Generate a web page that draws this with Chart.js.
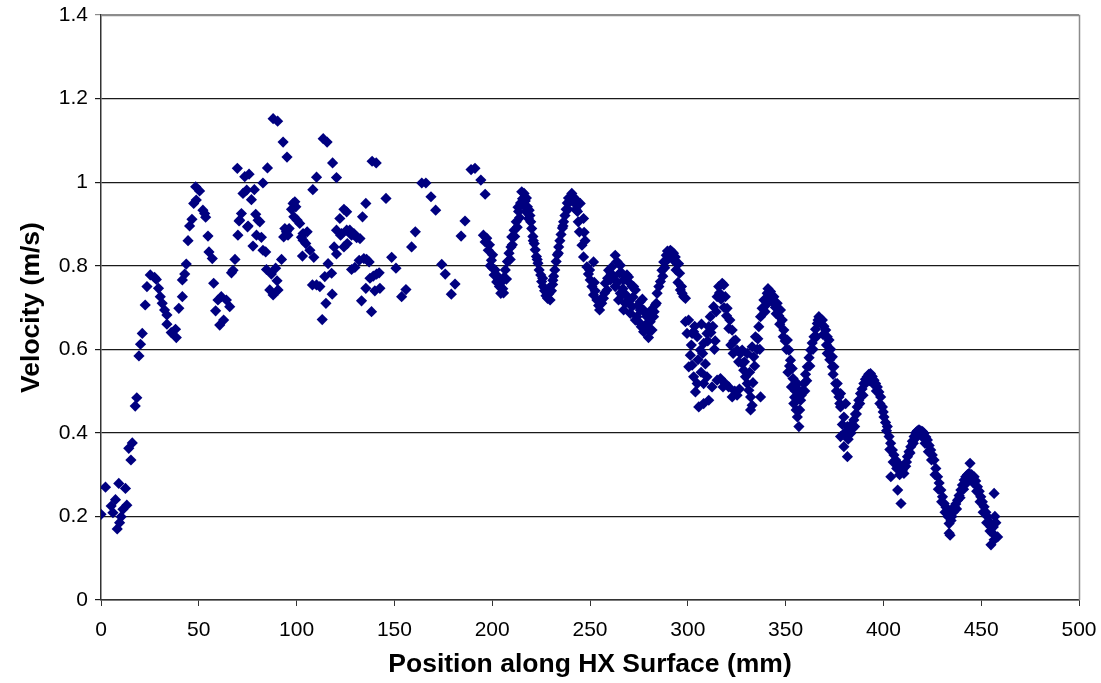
<!DOCTYPE html>
<html>
<head>
<meta charset="utf-8">
<script src="https://cdn.jsdelivr.net/npm/chart.js@4.4.0/dist/chart.umd.min.js"></script>
<style>
    body { margin: 0; background: #fff; }
</style>
</head>
<body>
<canvas id="graficoVelocidad" width="1101" height="683"></canvas>
<script>
// position (mm), velocity (m/s)
let inletPoints = [
    [0, 0.205], [2.3, 0.27], [5.2, 0.225], [6.1, 0.209], [7.4, 0.24], [8.3, 0.17], [9.1, 0.279],
    [9.5, 0.185], [10.3, 0.199], [11.2, 0.217], [12.5, 0.267], [13.2, 0.227], [14.2, 0.363],
    [15.3, 0.335], [16, 0.376], [17.5, 0.464], [18.3, 0.484], [19.4, 0.584], [20.2, 0.612],
    [21.1, 0.638], [22.6, 0.706], [23.5, 0.75], [25.2, 0.778], [27.4, 0.772], [28.3, 0.767],
    [29.4, 0.746], [30.3, 0.726], [31.3, 0.71], [32.5, 0.694], [33.7, 0.682], [33.7, 0.66],
    [35.9, 0.64], [38.1, 0.648], [38.5, 0.628], [39.8, 0.698], [41.6, 0.726], [41.6, 0.766],
    [42.8, 0.78], [43.6, 0.804], [44.5, 0.86], [45.3, 0.895], [46.5, 0.911], [47.4, 0.949],
    [48.7, 0.957], [48.4, 0.989], [50.4, 0.979], [52.1, 0.933], [53, 0.925], [53.5, 0.916],
    [54.7, 0.871], [55.2, 0.833], [56.9, 0.817], [57.6, 0.758], [58.6, 0.692], [59.8, 0.718],
    [60.7, 0.658], [61.5, 0.726], [62.7, 0.67], [64.1, 0.718], [65.8, 0.702], [66.7, 0.783],
    [67.5, 0.789], [68.5, 0.815], [69.7, 1.033], [70, 0.873], [70.6, 0.907], [70.9, 0.909],
    [71.8, 0.925], [72.6, 0.973], [73.5, 1.013], [74.5, 0.981], [74.9, 0.893], [75.2, 0.895],
    [75.7, 1.019], [76.9, 0.958], [77.7, 0.847], [78.4, 0.982], [79.1, 0.923], [79.5, 0.873],
    [80.3, 0.909], [81.2, 0.905], [82, 0.868], [82.8, 0.837], [82.8, 0.998], [84.2, 0.833],
    [84.6, 0.791], [85.1, 1.034], [86.3, 0.742], [87.1, 0.78], [88, 0.73], [88, 1.152],
    [89.3, 0.794], [90, 0.764], [90.3, 1.146], [90.5, 0.742], [92.3, 0.815], [93.1, 1.096],
    [93.4, 0.869], [94, 0.889], [94.8, 0.881], [95.1, 1.06], [95.6, 0.873], [96.2, 0.889],
    [97.4, 0.935], [98.2, 0.949], [98.6, 0.917], [99.1, 0.953], [99.6, 0.941], [100.3, 0.909],
    [101.6, 0.901], [102.5, 0.868], [103, 0.823], [103.3, 0.877], [103.3, 0.861], [104.7, 0.853],
    [105.4, 0.881], [106.8, 0.837], [108.3, 0.982], [108.1, 0.754], [108.8, 0.82], [110.2, 1.012],
    [110.2, 0.754], [111.9, 0.75], [113.1, 0.671], [113.6, 1.104], [114.4, 0.774], [115, 0.71],
    [115.6, 1.096], [116.1, 0.805], [117.9, 0.782], [118.2, 0.732], [118.4, 1.046], [119.2, 0.845],
    [120.4, 1.011], [120.4, 0.828], [120.4, 0.885], [122.1, 0.913], [122.5, 0.873], [123, 0.877],
    [124.2, 0.935], [124.2, 0.845], [125.6, 0.929], [125.6, 0.885], [125.9, 0.853], [127.2, 0.885],
    [128.1, 0.791], [128.1, 0.873], [129.3, 0.877], [129.8, 0.796], [130.7, 0.867], [132, 0.813],
    [132.4, 0.865], [133.2, 0.716], [133.7, 0.917], [134.4, 0.817], [135.4, 0.949], [135.4, 0.746],
    [135.8, 0.815], [137.1, 0.809], [137.5, 0.77], [138.3, 0.69], [138.6, 1.05], [139.2, 0.775],
    [140, 0.74], [140.7, 1.046], [140.9, 0.78], [142.2, 0.783], [142.6, 0.746], [145.7, 0.961],
    [148.6, 0.82], [150.8, 0.794], [153.7, 0.726], [155.9, 0.743], [158.8, 0.845], [160.7, 0.881],
    [164, 0.998], [166.1, 0.998], [168.7, 0.965], [171.1, 0.933], [174.2, 0.803], [176, 0.78],
    [179.1, 0.732], [181, 0.756], [184.1, 0.871], [186.1, 0.907], [189.2, 1.03], [191.2, 1.033],
    [194.2, 1.005], [196.4, 0.971]
];

let wavePoints = [
    [195.5, 0.873], [196.4, 0.857], [197.2, 0.866], [198, 0.837], [198.6, 0.85], [199.6, 0.813],
    [200.2, 0.826], [200.3, 0.794], [201, 0.778], [201.5, 0.79], [202.3, 0.761], [202.8, 0.775],
    [203.7, 0.75], [204.4, 0.734], [204.6, 0.76], [205.4, 0.745], [206, 0.772], [206.7, 0.79],
    [207.3, 0.768], [207.8, 0.81], [208.6, 0.83], [209.2, 0.815], [210, 0.869], [210.3, 0.85],
    [211.2, 0.885], [211.5, 0.87], [212.3, 0.905], [212.8, 0.892], [213.5, 0.93], [214, 0.915],
    [214.5, 0.95], [215.1, 0.977], [215.5, 0.96], [216.3, 0.973], [216.9, 0.955], [217.5, 0.962],
    [218, 0.941], [218.5, 0.913], [218.9, 0.933], [219.7, 0.905], [220.2, 0.889], [220.8, 0.87],
    [221.5, 0.853], [222, 0.838], [222.6, 0.822], [223.4, 0.806], [224, 0.79], [224.8, 0.778],
    [225.3, 0.762], [226.1, 0.75], [226.8, 0.74], [227.5, 0.728], [228.3, 0.722], [229, 0.733],
    [229.6, 0.718], [230.3, 0.74], [230.9, 0.755], [231.4, 0.775], [232, 0.79], [232.7, 0.81],
    [233.3, 0.826], [234, 0.845], [234.6, 0.86], [235.2, 0.875], [235.9, 0.89], [236.5, 0.905],
    [237.2, 0.92], [237.8, 0.935], [238.4, 0.95], [239, 0.962], [239.7, 0.955], [240.7, 0.973],
    [241.3, 0.965], [242.1, 0.95], [242.8, 0.935], [243.6, 0.93], [244.6, 0.881], [245, 0.949],
    [245.9, 0.849], [246.7, 0.913], [246.7, 0.821], [247.5, 0.86], [248.4, 0.797], [249.2, 0.78],
    [250.1, 0.766], [251, 0.75], [251.8, 0.809], [251.8, 0.73], [252.6, 0.74], [253.5, 0.718],
    [254.4, 0.705], [254.9, 0.694], [256, 0.71], [256.9, 0.722], [257.8, 0.758], [258.7, 0.742],
    [259.5, 0.789], [260.4, 0.766], [261.2, 0.797], [262.1, 0.775], [262.9, 0.825], [262.9, 0.75],
    [264.6, 0.718], [265.1, 0.782], [265.5, 0.801], [265.5, 0.734], [266.4, 0.73], [266.4, 0.782],
    [267.2, 0.766], [267.2, 0.694], [268, 0.71], [268.9, 0.714], [268.9, 0.778], [269.7, 0.773],
    [270.6, 0.686], [270.6, 0.718], [271.5, 0.75], [271.5, 0.702], [272.3, 0.75], [273.2, 0.742],
    [273.2, 0.67], [274, 0.678], [275.7, 0.714], [275.7, 0.662], [275.7, 0.694], [276.2, 0.654],
    [277.4, 0.65], [277.4, 0.694], [277.4, 0.642], [278.3, 0.686], [279.1, 0.678], [279.9, 0.628],
    [280.8, 0.666], [281.2, 0.678], [281.7, 0.646], [282.5, 0.678], [283.4, 0.706], [283.9, 0.71],
    [284.3, 0.734], [286, 0.762], [286.8, 0.789], [287.7, 0.809], [288.5, 0.809], [289, 0.825],
    [290.2, 0.825], [291.1, 0.837], [291.9, 0.833], [292.7, 0.83], [293.6, 0.821], [294.5, 0.805],
    [295.3, 0.805], [295.8, 0.782], [296.2, 0.742], [297.1, 0.734], [297.9, 0.726], [298.8, 0.722]
];

// second track of the oscillating band (gives it its thickness)
let waveBandPoints = [
    [199, 0.8], [203, 0.765], [205.8, 0.735], [209.6, 0.845], [213.2, 0.94], [216, 0.945],
    [217.2, 0.93], [219.3, 0.92], [221, 0.86], [223, 0.815], [225.8, 0.77], [228.8, 0.745],
    [231, 0.765], [233.8, 0.83], [236.2, 0.895], [238.8, 0.935], [240.2, 0.955], [242.4, 0.96],
    [244, 0.905], [247, 0.88], [249.8, 0.79], [252.2, 0.76], [255.5, 0.72], [257.5, 0.735],
    [259, 0.77], [260.8, 0.78], [263.8, 0.81], [264, 0.76], [266.8, 0.745], [268.4, 0.73],
    [270, 0.76], [272, 0.725], [274.5, 0.705], [276.8, 0.72], [278.8, 0.66], [280.3, 0.645],
    [281.5, 0.695], [282.8, 0.69], [285.2, 0.75], [287.2, 0.775], [288.2, 0.795], [289.6, 0.835],
    [292.3, 0.815], [294, 0.79], [295, 0.76], [296.8, 0.75]
];

let tailPoints = [
    [298.8, 0.666], [299.6, 0.638], [300.4, 0.67], [300.5, 0.558], [301.3, 0.586], [302.2, 0.562],
    [302.2, 0.638], [303, 0.642], [303, 0.534], [303.9, 0.498], [304.8, 0.63], [304.8, 0.518],
    [305.6, 0.462], [306.4, 0.598], [307, 0.66], [308.1, 0.47], [308.1, 0.614], [308.1, 0.518],
    [309.8, 0.638], [309.8, 0.534], [310.7, 0.654], [310.7, 0.478], [311.5, 0.678], [312.4, 0.51],
    [312.8, 0.655], [313.2, 0.702], [314, 0.62], [315, 0.726], [315, 0.526], [315.8, 0.75],
    [316.7, 0.53], [317.6, 0.758], [318.4, 0.754], [318.5, 0.7], [319.2, 0.726], [319.2, 0.518],
    [320.1, 0.698], [320.9, 0.51], [321.5, 0.67], [322.7, 0.646], [322.7, 0.486], [323.5, 0.62],
    [324.4, 0.622], [325.2, 0.598], [325.2, 0.49], [326.9, 0.59], [327.8, 0.566], [327.8, 0.598],
    [328.6, 0.55], [329.5, 0.534], [330.4, 0.518], [330.4, 0.59], [331.2, 0.502], [332.1, 0.486],
    [332.1, 0.455], [332.9, 0.466], [332.9, 0.606], [333.7, 0.582], [334.6, 0.63], [335.5, 0.6],
    [336.3, 0.654], [337.2, 0.678], [337.2, 0.486], [338, 0.698], [338.9, 0.718], [339.5, 0.69],
    [340.6, 0.734], [341.5, 0.72], [342.3, 0.738], [343, 0.715], [344, 0.726], [344.8, 0.7],
    [345.7, 0.71], [346.5, 0.68], [347.4, 0.694], [348.3, 0.67], [349.1, 0.646], [349.8, 0.62],
    [350.9, 0.622], [351.7, 0.598], [352, 0.56], [352.5, 0.574], [353.4, 0.554], [353.8, 0.53],
    [354.2, 0.47], [355, 0.5], [356, 0.518], [356, 0.438], [356.8, 0.502], [356.8, 0.415],
    [357.7, 0.478], [358.5, 0.5], [359.4, 0.518], [360.2, 0.54], [361.1, 0.558], [362, 0.58],
    [362.8, 0.598], [363.6, 0.615], [364.5, 0.63], [365.3, 0.648], [366.2, 0.662], [367, 0.678],
    [367.8, 0.672], [368.8, 0.67], [369.6, 0.655], [370.5, 0.646], [371.3, 0.59], [371.3, 0.63],
    [372.2, 0.622], [373, 0.6], [373.9, 0.582], [373.9, 0.558], [374.7, 0.558], [375.6, 0.518],
    [376.4, 0.518], [377.3, 0.486], [378.1, 0.494], [378.1, 0.462], [378.1, 0.391], [379.8, 0.438],
    [379.8, 0.367], [380.7, 0.47], [381.6, 0.415], [381.6, 0.343], [382.4, 0.407], [383.3, 0.399],
    [384.1, 0.41], [384.9, 0.431], [385.7, 0.445], [386.6, 0.462], [387.4, 0.478], [388.3, 0.494],
    [389.1, 0.505], [390, 0.518], [390.8, 0.528], [391.7, 0.534], [392.5, 0.54], [393.4, 0.542],
    [394.3, 0.535], [395.2, 0.526], [396, 0.518], [396.9, 0.51], [397.7, 0.498], [398.6, 0.486],
    [399.5, 0.462], [400.3, 0.438], [401.1, 0.425], [402, 0.415], [402.9, 0.391], [403.7, 0.375],
    [403.8, 0.295], [404.6, 0.359], [405.4, 0.347], [406.3, 0.335], [407.3, 0.263], [407.5, 0.327],
    [408.8, 0.319], [409, 0.231], [409.6, 0.31], [410.5, 0.303], [411.4, 0.32], [412.3, 0.343],
    [413.1, 0.355], [414, 0.367], [414.8, 0.38], [415.7, 0.391], [416.5, 0.4], [417.4, 0.405],
    [418.2, 0.407], [419.1, 0.405], [420, 0.403], [420.8, 0.399], [421.7, 0.39], [422.5, 0.383],
    [423.4, 0.37], [424.2, 0.359], [425, 0.347], [425.9, 0.335], [426.8, 0.315], [427.7, 0.295],
    [428.5, 0.28], [429.4, 0.263], [430.2, 0.247], [431.1, 0.231], [432, 0.222], [432.8, 0.215],
    [433.6, 0.183], [433.6, 0.16], [434.1, 0.155], [435, 0.2], [436.2, 0.223], [437, 0.23],
    [437.9, 0.239], [438.7, 0.25], [439.6, 0.263], [440.4, 0.275], [441.3, 0.287], [442.1, 0.295],
    [443, 0.3], [443.8, 0.303], [444.3, 0.327], [445.1, 0.3], [446.4, 0.295], [447.2, 0.285],
    [448.1, 0.271], [449, 0.26], [449.8, 0.247], [450.6, 0.235], [451.5, 0.223], [452.4, 0.21],
    [453.3, 0.199], [454.1, 0.187], [455, 0.175], [455, 0.132], [455.8, 0.16], [456.6, 0.144],
    [456.6, 0.255], [457, 0.2], [458.4, 0.151]
];

let tailBandPoints = [
    [301.8, 0.61], [303.5, 0.655], [305.2, 0.575], [306.8, 0.545], [307.6, 0.59], [309, 0.565],
    [310.2, 0.62], [311.8, 0.64], [313.6, 0.6], [314.5, 0.69], [316.2, 0.735], [317, 0.72],
    [318, 0.51], [319.8, 0.68], [321, 0.65], [322, 0.61], [323.2, 0.59], [324, 0.5],
    [326, 0.57], [326.4, 0.505], [329, 0.57], [331.6, 0.545], [333.3, 0.52], [334.2, 0.56],
    [335.8, 0.625], [336.8, 0.6], [339.8, 0.705], [341, 0.745], [342.8, 0.725], [345.2, 0.685],
    [347, 0.66], [348.8, 0.63], [350.4, 0.6], [351.2, 0.545], [353, 0.51], [354.6, 0.485],
    [355.4, 0.455], [357.2, 0.455], [358, 0.49], [359.8, 0.5], [360.8, 0.525], [362.4, 0.56],
    [364, 0.6], [365.8, 0.63], [366.6, 0.67], [368.3, 0.66], [369.2, 0.635], [370.9, 0.61],
    [372.6, 0.575], [374.3, 0.54], [376, 0.5], [377.7, 0.47], [379, 0.42], [380.2, 0.4],
    [382, 0.385], [383.7, 0.42], [385.3, 0.415], [386.2, 0.445], [387.9, 0.47], [389.6, 0.49],
    [391.3, 0.52], [392.9, 0.525], [394.7, 0.518], [396.4, 0.5], [398.2, 0.47], [399.9, 0.45],
    [401.6, 0.405], [403.3, 0.36], [405, 0.33], [406.8, 0.315], [408.3, 0.3], [410, 0.315],
    [411.8, 0.33], [413.6, 0.352], [415.3, 0.375], [417, 0.39], [419.5, 0.392], [421.3, 0.375],
    [423, 0.355], [424.6, 0.335], [426.4, 0.3], [428.1, 0.265], [429.8, 0.235], [431.5, 0.21],
    [433, 0.2], [434.6, 0.19], [435.7, 0.21], [437.4, 0.218], [439.2, 0.245], [441, 0.265],
    [442.6, 0.28], [444.6, 0.29], [446, 0.28], [447.7, 0.26], [449.4, 0.235], [451, 0.21],
    [452.8, 0.185], [454.5, 0.165], [456.2, 0.175], [457.5, 0.185]
];

let xTicks = [0, 50, 100, 150, 200, 250, 300, 350, 400, 450, 500];
let yTicks = [0, 0.2, 0.4, 0.6, 0.8, 1, 1.2, 1.4];

let puntos = inletPoints
    .concat(wavePoints, waveBandPoints, tailPoints, tailBandPoints)
    .map(p => ({ x: p[0], y: p[1] }));

// marco gris del area de dibujo (arriba y derecha)
let marcoPlugin = {
    id: 'marco',
    beforeDatasetsDraw(chart) {
        let { ctx, chartArea } = chart;
        ctx.save();
        ctx.strokeStyle = '#8c8c8c';
        ctx.lineWidth = 1.5;
        ctx.beginPath();
        ctx.moveTo(chartArea.left, chartArea.top + 0.5);
        ctx.lineTo(chartArea.right + 0.5, chartArea.top + 0.5);
        ctx.lineTo(chartArea.right + 0.5, chartArea.bottom);
        ctx.stroke();
        ctx.restore();
    }
};

let fuente = 'Liberation Sans, Arial, sans-serif';

let config = {
    type: 'scatter',
    data: {
        datasets: [{
            label: 'Velocity',
            data: puntos,
            pointStyle: 'rectRot',
            pointRadius: 5.6,
            backgroundColor: '#000080',
            borderColor: '#000080',
            borderWidth: 0
        }]
    },
    options: {
        responsive: false,
        animation: false,
        layout: { padding: { top: 15, right: 22, left: 0, bottom: 0 } },
        plugins: {
            legend: { display: false },
            tooltip: { enabled: false }
        },
        scales: {
            x: {
                type: 'linear',
                min: xTicks[0],
                max: xTicks[xTicks.length - 1],
                afterFit: scale => {
                    scale.height = 83;
                    scale.paddingLeft = 0;
                    scale.paddingRight = 0;
                },
                afterBuildTicks: scale => { scale.ticks = xTicks.map(v => ({ value: v })); },
                ticks: {
                    color: '#000',
                    padding: 12,
                    maxRotation: 0,
                    font: { family: fuente, size: 21 }
                },
                grid: {
                    drawOnChartArea: false,
                    drawTicks: true,
                    tickLength: 6,
                    color: '#333'
                },
                border: { color: '#333', width: 1.5 },
                title: {
                    display: true,
                    text: 'Position along HX Surface (mm)',
                    color: '#000',
                    padding: { top: 0, bottom: 2 },
                    font: { family: fuente, size: 26.5, weight: 'bold' }
                }
            },
            y: {
                type: 'linear',
                min: yTicks[0],
                max: yTicks[yTicks.length - 1],
                afterFit: scale => {
                    scale.width = 101;
                    scale.paddingTop = 0;
                    scale.paddingBottom = 0;
                },
                afterBuildTicks: scale => { scale.ticks = yTicks.map(v => ({ value: v })); },
                ticks: {
                    color: '#000',
                    padding: 7,
                    callback: value => String(Math.round(value * 10) / 10),
                    font: { family: fuente, size: 21 }
                },
                grid: {
                    color: ctx => ctx.tick && ctx.tick.value === 1.4 ? '#8c8c8c' : '#1a1a1a',
                    lineWidth: 1.2,
                    tickLength: 6
                },
                border: { color: '#333', width: 1.5 },
                title: {
                    display: true,
                    text: 'Velocity (m/s)',
                    color: '#000',
                    padding: { top: 16, bottom: 0 },
                    font: { family: fuente, size: 26.5, weight: 'bold' }
                }
            }
        }
    },
    plugins: [marcoPlugin]
};

let canvas = document.getElementById("graficoVelocidad");
let graficoChartJS = new Chart(canvas.getContext("2d"), config);
</script>
</body>
</html>
